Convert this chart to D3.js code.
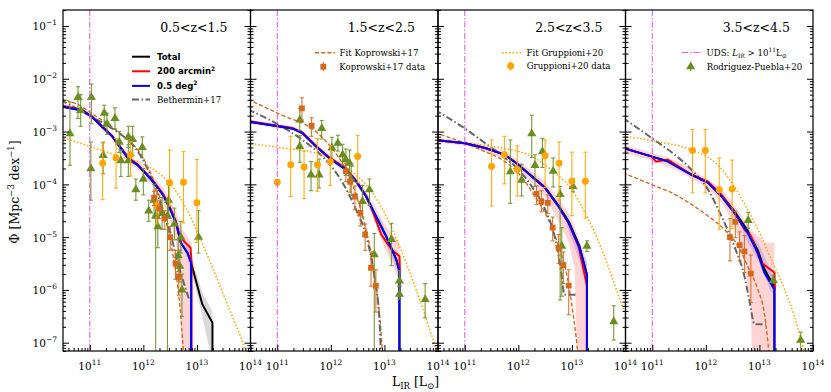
<!doctype html>
<html>
<head>
<script src="https://cdnjs.cloudflare.com/ajax/libs/d3/7.8.5/d3.min.js"></script>
<style>
  body { margin: 0; background: #fff; }
  svg text { font-family: "DejaVu Serif", serif; fill: #000; }
</style>
</head>
<body>
<svg id="chart" width="831" height="392"></svg>
<script>
// redshift bins and axis ticks (exponents)
var bins = ["0.5<z<1.5", "1.5<z<2.5", "2.5<z<3.5", "3.5<z<4.5"];
var xTicks = [11, 12, 13, 14];
var yTicks = [-1, -2, -3, -4, -5, -6, -7];
var udsLimit = 11;

// all values: [log10 L_IR, log10 Phi] ; bands: [log10 L, lo, hi]
var total = [
  [[10.45,-2.52],[10.86,-2.6],[11.04,-2.72],[11.23,-2.91],[11.42,-3.09],[11.575,-3.31],[11.73,-3.53],[11.89,-3.63],[12.04,-3.79],[12.2,-3.97],[12.36,-4.19],[12.48,-4.42],[12.61,-4.73],[12.7,-5.11],[12.825,-5.3],[12.89,-5.48],[13.1,-6.27],[13.29,-6.62],[13.29,-7.4]],
  [[10.45,-2.81],[11.28,-2.94],[11.47,-3.03],[11.72,-3.28],[11.97,-3.5],[12.28,-3.72],[12.47,-3.94],[12.66,-4.23],[12.84,-4.6],[13.03,-4.98],[13.22,-5.42],[13.28,-5.64],[13.28,-7.4]],
  [[10.44,-3.16],[11.0,-3.22],[11.38,-3.31],[11.75,-3.44],[12.0,-3.63],[12.25,-3.84],[12.5,-4.06],[12.75,-4.4],[12.95,-4.72],[13.14,-5.17],[13.28,-5.72],[13.28,-7.4]],
  [[10.45,-3.31],[10.98,-3.47],[11.29,-3.56],[11.73,-3.81],[12.04,-3.96],[12.29,-4.2],[12.53,-4.5],[12.78,-4.88],[12.97,-5.25],[13.09,-5.6],[13.28,-5.95],[13.28,-7.4]]
];
var arcmin200 = [
  [[10.45,-2.5],[10.86,-2.59],[11.04,-2.71],[11.23,-2.9],[11.42,-3.08],[11.575,-3.3],[11.73,-3.5],[11.89,-3.62],[12.04,-3.78],[12.2,-3.96],[12.36,-4.17],[12.48,-4.4],[12.6,-4.68],[12.68,-4.98],[12.78,-5.1],[12.88,-5.2],[12.9,-5.48],[12.9,-7.4]],
  [[10.45,-2.8],[11.28,-2.93],[11.47,-3.02],[11.72,-3.27],[11.97,-3.49],[12.28,-3.7],[12.47,-3.93],[12.66,-4.22],[12.78,-4.51],[12.94,-4.95],[13.13,-5.23],[13.28,-5.36],[13.29,-5.64]],
  [[10.44,-3.16],[11.0,-3.22],[11.38,-3.31],[11.75,-3.44],[12.0,-3.63],[12.25,-3.85],[12.5,-4.07],[12.75,-4.42],[12.94,-4.74],[13.13,-5.2],[13.28,-5.92],[13.28,-7.4]],
  [[10.45,-3.31],[10.98,-3.47],[11.07,-3.57],[11.29,-3.53],[11.73,-3.82],[12.04,-3.95],[12.29,-4.2],[12.53,-4.52],[12.72,-4.86],[12.84,-4.98],[13.03,-5.48],[13.16,-5.58],[13.28,-5.67],[13.29,-5.99]]
];
var deg05 = [
  [[10.45,-2.52],[10.86,-2.6],[11.04,-2.72],[11.23,-2.91],[11.42,-3.09],[11.575,-3.31],[11.73,-3.53],[11.89,-3.63],[12.04,-3.79],[12.2,-3.97],[12.36,-4.19],[12.48,-4.42],[12.61,-4.73],[12.7,-5.11],[12.825,-5.3],[12.89,-5.48],[12.89,-7.4]],
  [[10.45,-2.81],[11.28,-2.94],[11.47,-3.03],[11.72,-3.28],[11.97,-3.5],[12.28,-3.72],[12.47,-3.94],[12.66,-4.23],[12.84,-4.6],[13.03,-4.98],[13.22,-5.42],[13.28,-5.64],[13.28,-7.4]],
  [[10.44,-3.16],[11.0,-3.22],[11.38,-3.31],[11.75,-3.44],[12.0,-3.63],[12.25,-3.85],[12.5,-4.07],[12.75,-4.42],[12.94,-4.73],[13.13,-5.17],[13.28,-5.7],[13.28,-7.4]],
  [[10.45,-3.31],[10.98,-3.47],[11.29,-3.57],[11.73,-3.82],[12.04,-3.97],[12.29,-4.23],[12.53,-4.54],[12.78,-4.92],[12.97,-5.3],[13.09,-5.67],[13.28,-5.99],[13.28,-7.4]]
];
var arcminBand = [
  [[10.45,-2.55,-2.48],[10.86,-2.64,-2.56],[11.04,-2.77,-2.68],[11.23,-2.96,-2.86],[11.42,-3.15,-3.03],[11.575,-3.37,-3.25],[11.73,-3.6,-3.46],[11.89,-3.7,-3.56],[12.04,-3.87,-3.71],[12.2,-4.07,-3.88],[12.36,-4.33,-4.06],[12.48,-4.62,-4.25],[12.6,-5.05,-4.5],[12.67,-5.6,-4.7],[12.72,-7.4,-4.85],[12.8,-7.4,-4.95],[12.9,-7.4,-5.1]],
  [[10.45,-2.85,-2.77],[11.28,-2.98,-2.9],[11.47,-3.08,-2.98],[11.72,-3.33,-3.22],[11.97,-3.55,-3.44],[12.28,-3.78,-3.66],[12.47,-4.0,-3.87],[12.66,-4.32,-4.14],[12.84,-4.75,-4.45],[13.0,-5.2,-4.75],[13.15,-5.5,-4.95],[13.28,-5.85,-5.1]],
  [[10.44,-3.2,-3.12],[11.0,-3.27,-3.18],[11.38,-3.37,-3.26],[11.75,-3.52,-3.38],[12.0,-3.72,-3.55],[12.25,-3.97,-3.75],[12.5,-4.25,-3.95],[12.75,-4.7,-4.27],[12.94,-5.1,-4.55],[13.05,-5.6,-4.8],[13.1,-7.4,-4.95],[13.28,-7.4,-5.45]],
  [[10.45,-3.4,-3.25],[11.0,-3.55,-3.4],[11.5,-3.75,-3.58],[12.0,-4.05,-3.88],[12.3,-4.35,-4.1],[12.5,-4.7,-4.35],[12.7,-5.4,-4.65],[12.84,-6.3,-4.85],[12.86,-7.4,-4.88],[13.0,-7.4,-5.0],[13.1,-7.4,-5.1],[13.28,-7.4,-5.1]]
];
var degBand = [
  [[12.6,-4.8,-4.65],[12.89,-5.6,-5.35]],
  [[12.9,-4.78,-4.6],[13.28,-5.75,-5.5]],
  [[12.9,-4.78,-4.58],[13.28,-5.85,-5.5]],
  [[12.7,-4.95,-4.7],[13.0,-5.5,-5.15],[13.2,-6.0,-5.6],[13.28,-6.1,-5.8]]
];
var totalBand = [
  [[12.89,-5.62,-5.35],[13.1,-6.5,-6.05],[13.29,-7.4,-6.4]],
  [], [], []
];
var kopFit = [
  [[10.45,-2.37],[10.8,-2.5],[11.1,-2.7],[11.4,-2.9],[11.7,-3.15],[11.9,-3.35],[12.05,-3.6],[12.2,-3.95],[12.35,-4.4],[12.48,-4.95],[12.58,-5.5],[12.65,-6.0],[12.7,-6.5],[12.76,-7.4]],
  [[10.45,-2.39],[11.09,-2.69],[11.72,-3.0],[12.09,-3.41],[12.34,-3.85],[12.59,-4.6],[12.78,-5.48],[12.91,-6.49],[12.98,-7.4]],
  [[10.44,-3.02],[11.0,-3.22],[11.38,-3.38],[11.69,-3.53],[12.0,-3.79],[12.31,-4.23],[12.56,-4.67],[12.75,-5.17],[12.91,-5.74],[13.0,-6.3],[13.06,-6.74],[13.13,-7.4]],
  [[10.45,-3.78],[11.0,-4.01],[11.42,-4.19],[11.73,-4.38],[12.04,-4.6],[12.35,-4.86],[12.6,-5.17],[12.78,-5.55],[12.97,-5.99],[13.09,-6.43],[13.2,-7.4]]
];
var bethermin = [
  [[10.45,-2.4],[11.0,-2.7],[11.5,-3.0],[11.8,-3.25],[12.0,-3.55],[12.2,-4.0],[12.35,-4.45],[12.5,-4.9],[12.62,-5.4],[12.75,-5.85],[12.86,-6.2]],
  [[10.45,-2.58],[10.97,-2.84],[11.47,-3.16],[11.84,-3.47],[12.22,-3.97],[12.47,-4.48],[12.66,-4.98],[12.81,-5.74],[12.91,-6.62],[12.94,-7.4]],
  [[10.44,-2.59],[11.0,-2.94],[11.38,-3.22],[11.75,-3.5],[12.0,-3.72],[12.25,-4.04],[12.5,-4.48],[12.69,-5.04],[12.81,-5.74],[12.86,-6.09],[13.09,-6.09]],
  [[10.45,-2.74],[11.0,-3.13],[11.42,-3.44],[11.73,-3.72],[12.04,-4.1],[12.29,-4.6],[12.53,-5.17],[12.72,-5.74],[12.81,-6.18],[12.91,-6.65],[13.12,-6.65]]
];
var gruFit = [
  [[10.45,-3.1],[11.0,-3.28],[11.5,-3.45],[12.0,-3.62],[12.3,-3.8],[12.55,-4.05],[12.8,-4.45],[13.05,-5.0],[13.3,-5.6],[13.5,-6.1],[13.7,-6.6],[13.86,-7.02],[13.95,-7.4]],
  [[10.45,-3.22],[11.09,-3.31],[11.72,-3.41],[12.34,-3.72],[12.66,-4.01],[12.97,-4.48],[13.28,-5.17],[13.59,-5.99],[13.84,-6.74],[13.94,-7.06],[14.0,-7.4]],
  [[10.44,-3.19],[11.06,-3.22],[11.69,-3.31],[12.25,-3.47],[12.69,-3.79],[13.0,-4.1],[13.22,-4.49],[13.54,-5.19],[13.79,-5.88],[13.9,-6.2],[14.0,-6.45]],
  [[10.45,-3.09],[11.1,-3.19],[11.73,-3.35],[12.22,-3.63],[12.53,-4.04],[12.78,-4.48],[13.03,-4.98],[13.22,-5.42],[13.47,-5.99],[13.65,-6.49],[13.81,-7.06],[13.9,-7.4]]
];

// data points: [log10 L, log10 Phi, err up (dex), err down (dex)]
var gruData = [
  [[11.24,-3.6,0.38,0.69],[11.49,-3.5,0.37,0.57],[11.76,-3.44,0.25,0.4],[12.25,-4.4,0.3,0.35],[12.49,-3.97,0.62,0.44],[12.75,-3.96,0.58,0.77],[13.0,-4.35,0.82,0.75]],
  [[11.0,-3.96,0.05,0.05],[11.25,-3.63,0.54,0.6],[11.5,-3.67,0.3,0.6],[11.75,-3.63,0.5,0.5],[11.99,-3.57,0.3,0.45],[12.5,-3.47,0.4,0.5]],
  [[11.5,-3.66,0.5,0.75],[11.74,-3.44,0.35,0.55],[11.98,-3.72,0.45,0.5],[12.5,-3.46,0.3,0.6],[12.76,-3.6,0.4,0.7],[13.0,-3.94,0.55,0.65],[13.25,-3.94,0.55,0.7]],
  [[11.75,-3.36,0.4,0.8],[11.99,-3.36,0.4,0.8],[12.25,-4.1,0.6,0.75],[12.49,-4.09,0.55,0.75]]
];
var kopData = [
  [[12.2,-4.25,0.12,0.15],[12.3,-4.45,0.15,0.2],[12.4,-4.65,0.15,0.2],[12.5,-5.0,0.2,0.25],[12.6,-5.5,0.25,0.3],[12.66,-5.75,0.25,0.35]],
  [[11.46,-2.56,0.2,0.22],[11.64,-2.89,0.15,0.2],[12.28,-3.75,0.15,0.2],[12.36,-3.95,0.15,0.2],[12.45,-4.23,0.2,0.25],[12.55,-4.54,0.2,0.25],[12.64,-4.95,0.2,0.3],[12.75,-5.58,0.3,0.35],[12.84,-5.92,0.3,0.5]],
  [[12.34,-4.18,0.15,0.2],[12.43,-4.32,0.2,0.2],[12.55,-4.35,0.15,0.2],[12.64,-4.82,0.2,0.25],[12.75,-5.2,0.25,0.3],[12.84,-5.53,0.25,0.35],[12.94,-5.92,0.3,0.55]],
  [[12.45,-5.0,0.35,0.45],[12.55,-4.71,0.2,0.3],[12.63,-5.15,0.25,0.3],[12.72,-5.27,0.3,0.4],[12.84,-5.69,0.35,0.55]]
];
var rpData = [
  [[10.63,-3.04,0.6,0.6],[10.78,-2.35,0.2,0.4],[10.83,-2.6,0.3,0.3],[11.03,-2.35,0.25,0.5],[11.02,-3.7,0.5,0.6],[11.27,-2.65,0.15,0.25],[11.25,-3.45,0.25,0.35],[11.32,-2.85,0.2,0.2],[11.47,-2.75,0.2,0.2],[11.55,-3.2,0.2,0.2],[11.58,-3.55,0.2,0.3],[11.72,-3.1,0.2,0.2],[11.8,-3.15,0.25,0.3],[11.72,-3.55,0.3,0.3],[11.86,-4.1,0.2,0.2],[11.98,-3.3,0.2,0.2],[12.0,-3.9,0.2,0.3],[12.1,-4.5,0.2,0.2],[12.2,-4.3,0.3,0.3],[12.23,-4.6,0.3,3],[12.27,-4.8,0.3,0.4],[12.35,-4.55,0.3,0.3],[12.45,-4.6,0.3,3],[12.47,-4.3,0.3,0.3],[12.58,-4.75,0.3,0.3],[12.65,-5.35,0.3,0.3],[12.68,-5.55,0.3,0.3],[12.7,-5.0,0.3,0.3],[12.72,-6.0,0.3,0.5],[13.03,-5.0,0.5,0.3]],
  [[11.42,-2.78,0.22,0.2],[11.42,-3.28,0.2,0.3],[11.63,-3.82,0.25,0.3],[11.78,-3.82,0.3,0.25],[11.83,-2.94,0.15,0.2],[12.02,-3.31,0.2,0.25],[12.13,-3.22,0.15,0.15],[12.22,-3.44,0.2,0.2],[12.28,-3.53,0.2,0.3],[12.35,-3.6,0.25,0.3],[12.38,-3.91,0.25,0.3],[12.59,-4.32,0.3,0.3],[12.72,-4.1,0.2,0.3],[12.81,-5.33,0.4,2.0],[13.13,-5.04,0.3,0.5],[13.28,-5.83,0.2,0.1],[13.28,-6.08,0.15,0.1],[13.76,-6.18,0.3,0.35]],
  [[11.85,-3.76,0.6,0.6],[12.06,-3.92,0.3,0.3],[12.25,-3.04,0.35,0.45],[12.31,-3.64,0.2,0.4],[12.45,-3.38,0.25,0.3],[12.65,-3.75,0.25,0.3],[12.78,-4.19,0.15,2.0],[12.81,-5.17,0.35,0.95],[13.02,-4.04,0.15,0.1],[13.28,-5.17,0.1,0.1],[13.78,-6.6,0.3,0.35]],
  [[12.79,-4.68,0.15,0.15],[13.26,-5.82,0.1,0.05],[13.77,-6.95,0.15,0.5]]
];

var W = 187.5, H = 341, X0 = 63, Y0 = 10;
var pow = function(e) { return Math.pow(10, e); };
var x = d3.scaleLog().domain([pow(10.5), pow(14)]).range([0, W]);
var y = d3.scaleLog().domain([pow(-7.157), pow(-0.697)]).range([H, 0]);
var px = function(d) { return x(pow(d[0])); };
var py = function(v) { return y(pow(v)); };

var line = d3.line().x(px).y(d => py(d[1]));
var smooth = d3.line().x(px).y(d => py(d[1])).curve(d3.curveMonotoneX);
var band = d3.area().x(px).y0(d => py(d[1])).y1(d => py(d[2]));

var C = { kop: "#d2691e", gru: "#ffa500", rp: "#6b8e23", beth: "#666666", uds: "#e060e0" };

var svg = d3.select("#chart");
svg.append("defs").append("clipPath").attr("id", "clip")
  .append("rect").attr("width", W).attr("height", H);

// minor tick values
var yMinor = [], xMinor = [];
for (var e = -8; e <= -1; e++) for (var k = 2; k <= 9; k++) {
  var v = k * pow(e);
  if (v > y.domain()[0] && v < y.domain()[1]) yMinor.push(v);
}
for (var e2 = 10; e2 <= 13; e2++) for (var k2 = 2; k2 <= 9; k2++) {
  var v2 = k2 * pow(e2);
  if (v2 > x.domain()[0] && v2 < x.domain()[1]) xMinor.push(v2);
}

function errorbars(g, data, color, marker) {
  var eb = g.append("g").attr("stroke", color).attr("stroke-width", 1.1).attr("opacity", 0.9);
  data.forEach(function(d) {
    var xx = px(d), yt = py(d[1] + d[2]), yb = py(d[1] - d[3]);
    eb.append("line").attr("x1", xx).attr("x2", xx).attr("y1", yt).attr("y2", yb);
    eb.append("line").attr("x1", xx - 2).attr("x2", xx + 2).attr("y1", yt).attr("y2", yt);
    eb.append("line").attr("x1", xx - 2).attr("x2", xx + 2).attr("y1", yb).attr("y2", yb);
  });
  g.append("g").selectAll("path").data(data).enter().append("path")
    .attr("d", d3.symbol().type(marker.type).size(marker.size))
    .attr("transform", d => `translate(${px(d)},${py(d[1])})`)
    .attr("fill", color);
}

bins.forEach(function(bin, i) {
  var panel = svg.append("g").attr("transform", `translate(${X0 + i * W},${Y0})`);
  var g = panel.append("g").attr("clip-path", "url(#clip)");

  g.append("path").attr("d", band(arcminBand[i])).attr("fill", "red").attr("opacity", 0.17);
  g.append("path").attr("d", band(degBand[i])).attr("fill", "blue").attr("opacity", 0.14);
  if (totalBand[i].length) g.append("path").attr("d", band(totalBand[i])).attr("fill", "black").attr("opacity", 0.15);

  g.append("path").attr("d", smooth(kopFit[i])).attr("fill", "none")
    .attr("stroke", C.kop).attr("stroke-width", 1.4).attr("stroke-dasharray", "4,2.2");
  g.append("path").attr("d", smooth(bethermin[i])).attr("fill", "none")
    .attr("stroke", C.beth).attr("stroke-width", 2).attr("stroke-dasharray", "7,2.5,1.5,2.5");
  g.append("path").attr("d", smooth(gruFit[i])).attr("fill", "none")
    .attr("stroke", C.gru).attr("stroke-width", 1.5).attr("stroke-dasharray", "1.5,2");

  g.append("path").attr("d", line(total[i])).attr("fill", "none").attr("stroke", "black").attr("stroke-width", 2);
  g.append("path").attr("d", line(arcmin200[i])).attr("fill", "none").attr("stroke", "red").attr("stroke-width", 2);
  g.append("path").attr("d", line(deg05[i])).attr("fill", "none").attr("stroke", "blue").attr("stroke-width", 2);

  errorbars(g, rpData[i], C.rp, { type: d3.symbolTriangle, size: 36 });
  errorbars(g, gruData[i], C.gru, { type: d3.symbolCircle, size: 38 });
  errorbars(g, kopData[i], C.kop, { type: d3.symbolSquare, size: 34 });

  g.append("line").attr("x1", x(pow(udsLimit))).attr("x2", x(pow(udsLimit)))
    .attr("y1", 0).attr("y2", H).attr("stroke", C.uds).attr("stroke-width", 1.1)
    .attr("stroke-dasharray", "6,2,1.5,2");

  // ticks
  var yMaj = yTicks.map(pow);
  [[d3.axisLeft, 0], [d3.axisRight, W]].forEach(function(a) {
    var ag = panel.append("g").attr("transform", `translate(${a[1]},0)`);
    ag.call(a[0](y).tickValues(yMaj).tickSize(-6).tickFormat(""));
    ag.append("g").call(a[0](y).tickValues(yMinor).tickSize(-3).tickFormat(""));
  });
  var bg = panel.append("g").attr("transform", `translate(0,${H})`);
  bg.call(d3.axisBottom(x).tickValues(xTicks.map(pow)).tickSize(-6).tickFormat(""));
  bg.append("g").call(d3.axisBottom(x).tickValues(xMinor).tickSize(-3).tickFormat(""));
  panel.selectAll(".domain").remove();
  panel.selectAll(".tick line").attr("stroke", "black").attr("stroke-width", 1);

  panel.append("rect").attr("width", W).attr("height", H)
    .attr("fill", "none").attr("stroke", "black").attr("stroke-width", 1.2);

  // x tick labels
  xTicks.forEach(function(t) {
    var tx = panel.append("text").attr("x", x(pow(t))).attr("y", H + 19)
      .attr("text-anchor", "middle").attr("font-size", 10.5);
    tx.append("tspan").text("10");
    tx.append("tspan").attr("dy", -5).attr("font-size", 7.5).text(t);
  });

  panel.append("text").attr("x", 130.8).attr("y", 22).attr("text-anchor", "middle")
    .attr("font-size", 12.5).text(bin);

  if (i === 0) {
    yTicks.forEach(function(t) {
      var ty = panel.append("text").attr("x", -6).attr("y", y(pow(t)) + 4.5)
        .attr("text-anchor", "end").attr("font-size", 10.5);
      ty.append("tspan").text("10");
      ty.append("tspan").attr("dy", -5).attr("font-size", 7.5).text("\u2212" + (-t));
    });
  }
});

// legends
var sans = "'DejaVu Sans', sans-serif";
var leg1 = [["Total", "black", null], ["200 arcmin", "red", "2"], ["0.5 deg", "blue", "2"]];
leg1.forEach(function(l, j) {
  var yy = 56.7 + j * 14.6;
  svg.append("line").attr("x1", 132).attr("x2", 150).attr("y1", yy).attr("y2", yy)
    .attr("stroke", l[1]).attr("stroke-width", 2);
  var t = svg.append("text").attr("x", 157).attr("y", yy + 3).attr("font-size", 8.6)
    .attr("font-weight", "bold").style("font-family", sans);
  t.append("tspan").text(l[0]);
  if (l[2]) t.append("tspan").attr("dy", -3.5).attr("font-size", 6).text(l[2]);
});
svg.append("line").attr("x1", 132).attr("x2", 150).attr("y1", 99.5).attr("y2", 99.5)
  .attr("stroke", C.beth).attr("stroke-width", 2).attr("stroke-dasharray", "7,2.5,1.5,2.5");
svg.append("text").attr("x", 157).attr("y", 102.5).attr("font-size", 8.6).text("Bethermin+17");

function legendLine(x1, yy, color, dash, width, label) {
  svg.append("line").attr("x1", x1).attr("x2", x1 + 20).attr("y1", yy).attr("y2", yy)
    .attr("stroke", color).attr("stroke-width", width).attr("stroke-dasharray", dash);
  return svg.append("text").attr("x", x1 + 24.5).attr("y", yy + 3).attr("font-size", 8.6).text(label);
}
function legendMarker(cx, cy, color, type, size, label) {
  svg.append("line").attr("x1", cx).attr("x2", cx).attr("y1", cy - 4.5).attr("y2", cy + 4.5)
    .attr("stroke", color).attr("stroke-width", 1.1);
  svg.append("path").attr("d", d3.symbol().type(type).size(size)())
    .attr("transform", `translate(${cx},${cy})`).attr("fill", color);
  svg.append("text").attr("x", cx + 16).attr("y", cy + 3).attr("font-size", 8.6).text(label);
}
legendLine(315, 52.7, C.kop, "4,2.2", 1.4, "Fit Koprowski+17");
legendMarker(323.3, 66.7, C.kop, d3.symbolSquare, 34, "Koprowski+17 data");
legendLine(502, 52.7, C.gru, "1.5,2", 1.5, "Fit Gruppioni+20");
legendMarker(510.7, 66, C.gru, d3.symbolCircle, 38, "Gruppioni+20 data");
var ut = legendLine(682, 52.5, C.uds, "6,2,1.5,2", 1.1, "UDS: ");
ut.append("tspan").attr("font-style", "italic").text("L");
ut.append("tspan").attr("dy", 2).attr("font-size", 6).text("IR");
ut.append("tspan").attr("dy", -2).text(" > 10");
ut.append("tspan").attr("dy", -3.5).attr("font-size", 6).text("11");
ut.append("tspan").attr("dy", 3.5).text("L");
ut.append("tspan").attr("dy", 2).attr("font-size", 6).text("\u2299");
legendMarker(690.7, 66.7, C.rp, d3.symbolTriangle, 36, "Rodriguez-Puebla+20");

// axis titles
var xl = svg.append("text").attr("x", 415.5).attr("y", 386).attr("text-anchor", "middle").attr("font-size", 12.5);
xl.append("tspan").text("L");
xl.append("tspan").attr("dy", 3).attr("font-size", 8.5).text("IR");
xl.append("tspan").attr("dy", -3).text(" [L");
xl.append("tspan").attr("dy", 3).attr("font-size", 8.5).text("\u2299");
xl.append("tspan").attr("dy", -3).text("]");

var yl = svg.append("text").attr("transform", "translate(19,192) rotate(-90)")
  .attr("text-anchor", "middle").attr("font-size", 12.5);
yl.append("tspan").text("\u03a6 [Mpc");
yl.append("tspan").attr("dy", -5).attr("font-size", 8.5).text("\u22123");
yl.append("tspan").attr("dy", 5).text(" dex");
yl.append("tspan").attr("dy", -5).attr("font-size", 8.5).text("\u22121");
yl.append("tspan").attr("dy", 5).text("]");
</script>
</body>
</html>
